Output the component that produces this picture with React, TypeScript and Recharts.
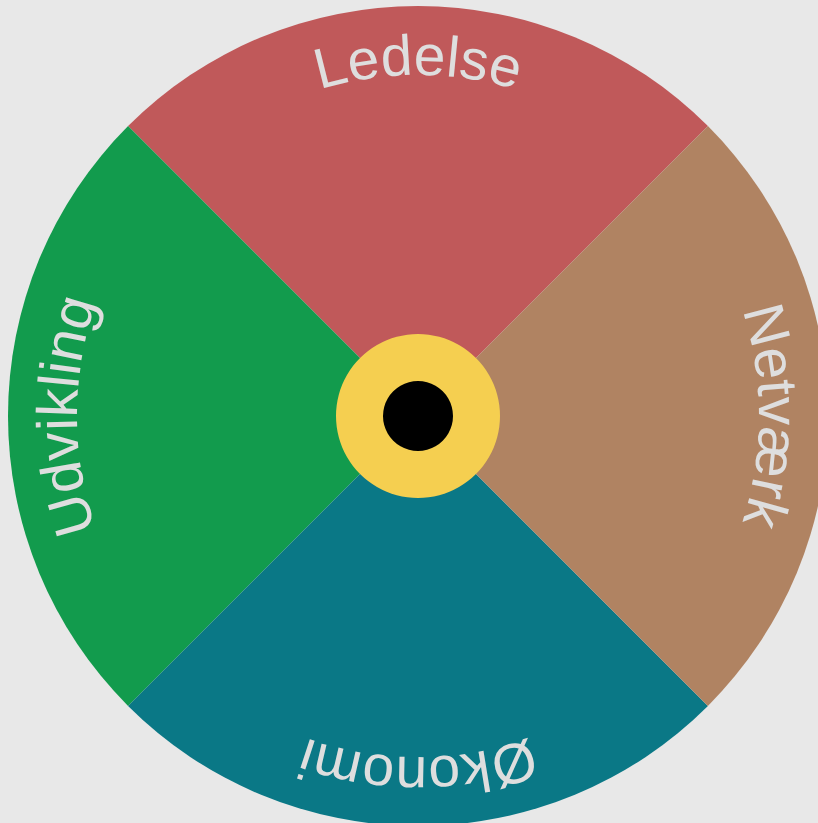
import { PieChart, Pie, Cell } from "recharts";

// wheel segments, counter-clockwise from the top (Recharts angle order)
const categories = ["Ledelse", "Udvikling", "Økonomi", "Netværk"];
const weights = [1, 1, 1, 1];

const palette = ["#c0595a", "#129b4d", "#0a7886", "#b08362"];

const data = categories.map((name, i) => ({ name, value: weights[i] }));
const hub = [{ name: "hub", value: 1 }];

const CX = 418;
const CY = 416;
const TEXT_R = 341;

function CurvedLabel(props: any) {
  const { cx, cy, midAngle, index, name } = props;
  const phi = (-midAngle * Math.PI) / 180;
  const pt = (a: number) => [cx + TEXT_R * Math.cos(a), cy + TEXT_R * Math.sin(a)];
  const [x0, y0] = pt(phi + Math.PI);
  const [x1, y1] = pt(phi);
  const id = `arc-label-${index}`;
  const d = `M ${x0} ${y0} A ${TEXT_R} ${TEXT_R} 0 0 1 ${x1} ${y1} A ${TEXT_R} ${TEXT_R} 0 0 1 ${x0} ${y0}`;
  return (
    <g>
      <defs>
        <path id={id} d={d} fill="none" />
      </defs>
      <text
        fill="#dedede"
        fontSize={57}
        fontFamily="'Liberation Sans', Arial, sans-serif"
      >
        <textPath href={`#${id}`} startOffset="50%" textAnchor="middle">
          {name}
        </textPath>
      </text>
    </g>
  );
}

export default function App() {
  return (
    <div
      style={{
        position: "absolute",
        left: 0,
        top: 0,
        width: 818,
        height: 823,
        background: "#e8e8e8",
        overflow: "hidden",
      }}
    >
      <PieChart
        width={818}
        height={823}
        margin={{ top: 0, right: 0, bottom: 0, left: 0 }}
      >
        <Pie
          data={data}
          dataKey="value"
          nameKey="name"
          cx={CX}
          cy={CY}
          outerRadius={410}
          startAngle={45}
          endAngle={405}
          stroke="none"
          label={CurvedLabel}
          labelLine={false}
          isAnimationActive={false}
        >
          {data.map((d, i) => (
            <Cell key={d.name} fill={palette[i]} />
          ))}
        </Pie>
        <Pie
          data={hub}
          dataKey="value"
          cx={CX}
          cy={CY}
          outerRadius={82}
          stroke="none"
          fill="#f5cf50"
          isAnimationActive={false}
        />
        <Pie
          data={hub}
          dataKey="value"
          cx={CX}
          cy={CY}
          outerRadius={35}
          stroke="none"
          fill="#000000"
          isAnimationActive={false}
        />
      </PieChart>
    </div>
  );
}
